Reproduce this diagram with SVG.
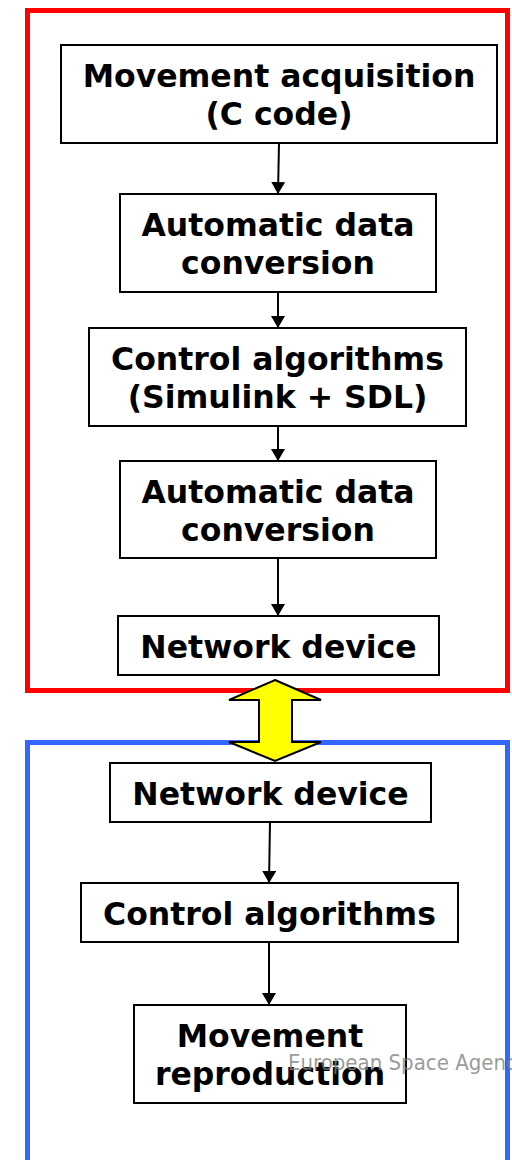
<svg xmlns="http://www.w3.org/2000/svg" width="512" height="1160" viewBox="0 0 512 1160">
  <style>
    .box { fill: #ffffff; stroke: #000000; stroke-width: 2; }
    .lbl { font-family: "DejaVu Sans", Verdana, sans-serif; font-weight: bold; font-size: 31.5px; fill: #000000; text-anchor: middle; }
    .link { stroke: #000000; stroke-width: 2; fill: none; marker-end: url(#head); }
    .mark { font-family: "DejaVu Sans Condensed", "DejaVu Sans", sans-serif; font-size: 22px; fill: #808080; fill-opacity: 0.8; }
  </style>
  <defs>
    <marker id="head" viewBox="0 0 12 14" refX="12" refY="7" markerWidth="12" markerHeight="14" markerUnits="userSpaceOnUse" orient="auto">
      <path d="M0,0 L12,7 L0,14 Z" fill="#000000"/>
    </marker>
  </defs>

  <rect width="512" height="1160" fill="#ffffff"/>

  <!-- sender side frame -->
  <rect id="frame-sender" x="27.5" y="10.5" width="480" height="680" fill="none" stroke="#ff0000" stroke-width="5"/>
  <!-- receiver side frame, open at the bottom -->
  <path id="frame-receiver" d="M27.5,1165 V742.5 H507.5 V1165" fill="none" stroke="#3366ff" stroke-width="5"/>

  <g id="n1">
    <rect class="box" x="61" y="45" width="436" height="98"/>
    <text class="lbl" x="279" y="87">Movement acquisition</text>
    <text class="lbl" x="279" y="125">(C code)</text>
  </g>
  <g id="n2">
    <rect class="box" x="120" y="194" width="316" height="98"/>
    <text class="lbl" x="278" y="236">Automatic data</text>
    <text class="lbl" x="278" y="274">conversion</text>
  </g>
  <g id="n3">
    <rect class="box" x="89" y="328" width="377" height="98"/>
    <text class="lbl" x="277.5" y="370">Control algorithms</text>
    <text class="lbl" x="277.5" y="408">(Simulink + SDL)</text>
  </g>
  <g id="n4">
    <rect class="box" x="120" y="461" width="316" height="97"/>
    <text class="lbl" x="278" y="502.5">Automatic data</text>
    <text class="lbl" x="278" y="540.5">conversion</text>
  </g>
  <g id="n5">
    <rect class="box" x="118" y="616" width="321" height="59"/>
    <text class="lbl" x="278.5" y="657.5">Network device</text>
  </g>
  <g id="n6">
    <rect class="box" x="110" y="763" width="321" height="59"/>
    <text class="lbl" x="270.5" y="804.5">Network device</text>
  </g>
  <g id="n7">
    <rect class="box" x="81" y="883" width="377" height="59"/>
    <text class="lbl" x="269.5" y="924.5">Control algorithms</text>
  </g>
  <g id="n8">
    <rect class="box" x="134" y="1005" width="272" height="98"/>
    <text class="lbl" x="270" y="1047">Movement</text>
    <text class="lbl" x="270" y="1085">reproduction</text>
  </g>

  <!-- network link between the two sides -->
  <g id="net-link">
    <path d="M275,680 L321,700 L292,700 L292,742 L321,742 L275,761 L229,742 L259,742 L259,700 L229,700 Z" fill="#ffff00" stroke="#000000" stroke-width="2" stroke-linejoin="miter"/>
  </g>

  <g id="connectors">
    <line class="link" x1="279" y1="143" x2="278" y2="194"/>
    <line class="link" x1="278" y1="292" x2="278" y2="328"/>
    <line class="link" x1="278" y1="426" x2="278" y2="461"/>
    <line class="link" x1="278" y1="558" x2="278" y2="616"/>
    <line class="link" x1="270" y1="822" x2="269" y2="883"/>
    <line class="link" x1="269" y1="942" x2="269" y2="1005"/>
  </g>

  <text class="mark" x="288" y="1070">European Space Agency</text>
</svg>
